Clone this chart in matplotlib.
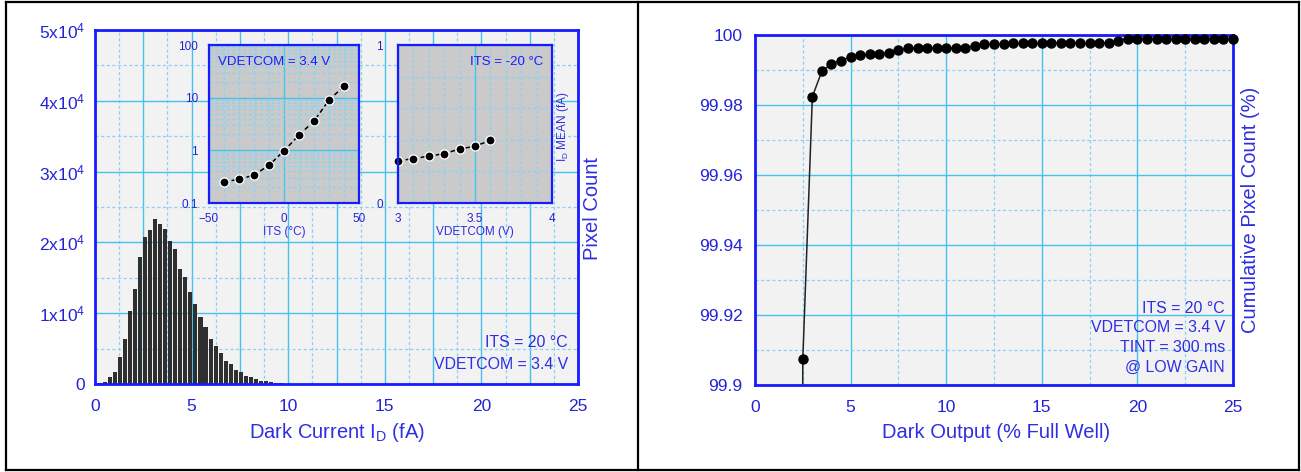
import numpy as np
import matplotlib
matplotlib.use("Agg")
from matplotlib import pyplot as plt
from matplotlib.ticker import MultipleLocator, FixedLocator, LogLocator, NullFormatter
from matplotlib.lines import Line2D

plt.rcParams['font.family'] = ['Liberation Sans', 'DejaVu Sans']
plt.rcParams['mathtext.fontset'] = 'custom'
plt.rcParams['mathtext.rm'] = 'Liberation Sans'
plt.rcParams['mathtext.default'] = 'regular'

# ---- data ----
# histogram of dark current (fA), bin width ~0.26 fA
hist_bin_width = 0.26
hist_counts = [100, 330, 940, 1650, 3770, 6360, 10260, 13420, 17890, 20720,
               21800, 23300, 22600, 21890, 20240, 19070, 16240, 15070, 12950,
               11300, 9420, 8100, 6360, 5410, 4330, 3300, 2820, 1980, 1650,
               1180, 940, 710, 470, 380, 240, 140, 94]
hist_centers = hist_bin_width * (np.arange(len(hist_counts)) + 1)

# inset 1: mean dark current vs temperature
its_temp = [-40, -30, -20, -10, 0, 10, 20, 30, 40]
its_mean = [0.254, 0.28, 0.34, 0.52, 0.98, 1.95, 3.6, 9.0, 16.6]

# inset 2: mean dark current vs VDETCOM
vdet = [3.0, 3.1, 3.2, 3.3, 3.4, 3.5, 3.6]
vdet_mean = [0.268, 0.280, 0.297, 0.312, 0.342, 0.359, 0.397]

# cumulative pixel count vs dark output
dark_out = [2.5, 3.0, 3.5, 4.0, 4.5, 5.0, 5.5, 6.0, 6.5, 7.0, 7.5, 8.0,
            8.5, 9.0, 9.5, 10.0, 10.5, 11.0, 11.5, 12.0, 12.5, 13.0, 13.5,
            14.0, 14.5, 15.0, 15.5, 16.0, 16.5, 17.0, 17.5, 18.0, 18.5,
            19.0, 19.5, 20.0, 20.5, 21.0, 21.5, 22.0, 22.5, 23.0, 23.5,
            24.0, 24.5, 25.0]
cum_count = [99.9073, 99.9824, 99.9897, 99.9917, 99.9927, 99.9938, 99.9943,
             99.9945, 99.9945, 99.9950, 99.9957, 99.9962, 99.9962, 99.9962,
             99.9962, 99.9962, 99.9962, 99.9962, 99.9970, 99.9973, 99.9973,
             99.9974, 99.9976, 99.9977, 99.9977, 99.9977, 99.9977, 99.9977,
             99.9977, 99.9977, 99.9977, 99.9977, 99.9977, 99.9984, 99.9990,
             99.9990, 99.9990, 99.9990, 99.9990, 99.9990, 99.9990, 99.9990,
             99.9990, 99.9990, 99.9990, 99.9990]
# the fitted curve runs off the bottom of the axis just left of the first point
curve_lead_x, curve_lead_y = 2.47, 99.85

hist_ylabels = ['0', '1x10$^4$', '2x10$^4$', '3x10$^4$', '4x10$^4$', '5x10$^4$']
cum_yticks = [99.9, 99.92, 99.94, 99.96, 99.98, 100]
cum_ylabels = ['99.9', '99.92', '99.94', '99.96', '99.98', '100']

# ---- styling ----
W, H = 1301, 472
TICK_C = '#2424d6'
LABEL_C = '#2e2ee2'
SPINE_C = '#1a1aff'
GRID_MAJ = '#46c0ec'
GRID_MIN = '#86d4f2'
BG_MAIN = '#f2f2f2'
BG_INSET = '#cacaca'

fig = plt.figure(figsize=(W / 100, H / 100), dpi=100)
fig.patch.set_facecolor('white')


def px_axes(left, top, right, bottom):
    return fig.add_axes([left / W, 1 - bottom / H, (right - left) / W, (bottom - top) / H])


def style_axes(ax, bg, tick_size, xpad, ypad, lw=2.0):
    ax.set_facecolor(bg)
    for s in ax.spines.values():
        s.set_color(SPINE_C)
        s.set_linewidth(lw)
    ax.tick_params(which='both', length=0, colors=TICK_C, labelsize=tick_size)
    ax.tick_params(axis='x', pad=xpad)
    ax.tick_params(axis='y', pad=ypad)
    ax.set_axisbelow(True)


def add_grid(ax):
    ax.grid(which='major', color=GRID_MAJ, linewidth=1.0, linestyle='-')
    ax.grid(which='minor', color=GRID_MIN, linewidth=0.9, linestyle=(0, (2.5, 2)))


def ftext(x, y, s, **kw):
    fig.text(x / W, 1 - y / H, s, **kw)


# ---- left: histogram ----
ax1 = px_axes(95, 30, 578, 384)
style_axes(ax1, BG_MAIN, 12.5, 11, 7)
ax1.bar(hist_centers, hist_counts, width=0.21, color='#2f2f2f', edgecolor='none')
ax1.set_xlim(0, 25)
ax1.set_ylim(0, 5e4)
ax1.xaxis.set_major_locator(FixedLocator(np.arange(0, 25.1, 2.5)))
ax1.xaxis.set_minor_locator(MultipleLocator(1.25))
ax1.set_xticklabels(['0', '', '5', '', '10', '', '15', '', '20', '', '25'])
ax1.set_yticks(np.arange(0, 5.01e4, 1e4))
ax1.set_yticklabels(hist_ylabels)
ax1.yaxis.set_minor_locator(MultipleLocator(5000))
add_grid(ax1)
ax1.text(0.979, 0.116, 'ITS = 20 °C', transform=ax1.transAxes, ha='right', va='center',
         color=LABEL_C, fontsize=11.4)
ax1.text(0.979, 0.056, 'VDETCOM = 3.4 V', transform=ax1.transAxes, ha='right', va='center',
         color=LABEL_C, fontsize=11.4)
ftext(337, 433, 'Dark Current I$_D$ (fA)', ha='center', va='center', color=LABEL_C, fontsize=14.5)
ftext(593, 209, 'Pixel Count', ha='center', va='center', rotation=90, color=LABEL_C, fontsize=14.5)

# inset 1: log mean vs ITS
ins1 = px_axes(209, 45, 359, 203)
style_axes(ins1, BG_INSET, 8.5, 7, 8, lw=1.6)
ins1.plot(its_temp, its_mean, color='black', linestyle=(0, (3, 2)), linewidth=1.1,
          marker='o', markersize=6.5, markerfacecolor='black', markeredgecolor='white',
          markeredgewidth=0.9)
ins1.set_yscale('log')
ins1.set_xlim(-50, 50)
ins1.set_ylim(0.1, 100)
ins1.set_xticks([-50, 0, 50])
ins1.xaxis.set_minor_locator(MultipleLocator(10))
ins1.set_yticks([0.1, 1, 10, 100])
ins1.set_yticklabels(['0.1', '1', '10', '100'])
ins1.yaxis.set_minor_locator(LogLocator(base=10, subs=np.arange(2, 10)))
ins1.yaxis.set_minor_formatter(NullFormatter())
add_grid(ins1)
ins1.text(0.06, 0.892, 'VDETCOM = 3.4 V', transform=ins1.transAxes, ha='left', va='center',
          color=SPINE_C, fontsize=9.5)
ftext(284, 232, 'ITS (°C)', ha='center', va='center', color=LABEL_C, fontsize=8.5)

# inset 2: mean vs VDETCOM
ins2 = px_axes(398, 45, 552, 203)
style_axes(ins2, BG_INSET, 8.5, 7, 11, lw=1.6)
ins2.plot(vdet, vdet_mean, color='black', linestyle=(0, (3, 2)), linewidth=1.1,
          marker='o', markersize=6.5, markerfacecolor='black', markeredgecolor='white',
          markeredgewidth=0.9, clip_on=False)
ins2.set_xlim(3, 4)
ins2.set_ylim(0, 1)
ins2.set_xticks([3, 3.5, 4])
ins2.set_xticklabels(['3', '3.5', '4'])
ins2.xaxis.set_minor_locator(MultipleLocator(0.1))
ins2.set_yticks([0, 1])
ins2.set_yticklabels(['0', '1'])
ins2.yaxis.set_minor_locator(MultipleLocator(0.2))
add_grid(ins2)
ins2.text(0.94, 0.892, 'ITS = -20 °C', transform=ins2.transAxes, ha='right', va='center',
          color=SPINE_C, fontsize=9.5)
ftext(475, 232, 'VDETCOM (V)', ha='center', va='center', color=LABEL_C, fontsize=8.5)
ftext(563, 127, 'I$_D$ MEAN (fA)', ha='center', va='center', rotation=90, color=LABEL_C, fontsize=8.5)

# ---- right: cumulative pixel count ----
ax2 = px_axes(755, 35, 1233, 385)
style_axes(ax2, BG_MAIN, 12.5, 11, 9)
ax2.plot([curve_lead_x] + dark_out, [curve_lead_y] + cum_count, color='#222222', linewidth=1.1)
ax2.plot(dark_out, cum_count, linestyle='none', marker='o', markersize=6.5,
         color='black', clip_on=False, zorder=3)
ax2.set_xlim(0, 25)
ax2.set_ylim(99.9, 100)
ax2.set_xticks([0, 5, 10, 15, 20, 25])
ax2.xaxis.set_minor_locator(MultipleLocator(2.5))
ax2.set_yticks(cum_yticks)
ax2.set_yticklabels(cum_ylabels)
ax2.yaxis.set_minor_locator(MultipleLocator(0.01))
add_grid(ax2)
for i, s in enumerate(['ITS = 20 °C', 'VDETCOM = 3.4 V', 'TINT = 300 ms', '@ LOW GAIN']):
    ax2.text(0.983, [0.219, 0.163, 0.106, 0.051][i], s, transform=ax2.transAxes,
             ha='right', va='center', color=LABEL_C, fontsize=11.4)
ftext(996, 433, 'Dark Output (% Full Well)', ha='center', va='center', color=LABEL_C, fontsize=14.5)
ftext(1251, 210, 'Cumulative Pixel Count (%)', ha='center', va='center', rotation=90,
      color=LABEL_C, fontsize=14.5)

# ---- outer black frame and divider ----
for xs, ys in [([6, 1299], [1.5, 1.5]), ([6, 1299], [469.5, 469.5]),
               ([6, 6], [1.5, 469.5]), ([1299, 1299], [1.5, 469.5]),
               ([637.5, 637.5], [1.5, 469.5])]:
    fig.add_artist(Line2D([x / W for x in xs], [1 - y / H for y in ys],
                          color='black', linewidth=1.6, transform=fig.transFigure))

fig.savefig('out.png', dpi=100, facecolor='white')
